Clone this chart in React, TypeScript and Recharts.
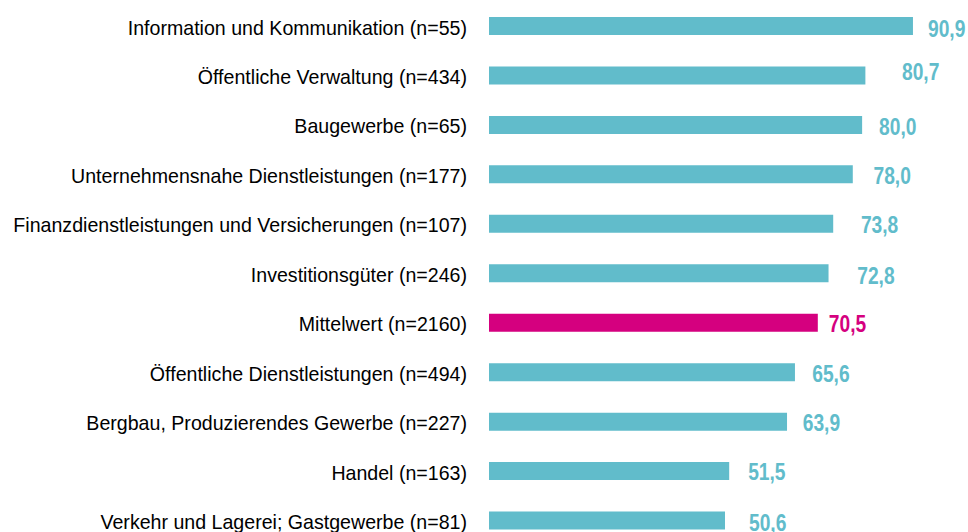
import React from "react";
import { BarChart, Bar, XAxis, YAxis, Cell, LabelList } from "recharts";

const categories = [
  "Information und Kommunikation (n=55)",
  "Öffentliche Verwaltung (n=434)",
  "Baugewerbe (n=65)",
  "Unternehmensnahe Dienstleistungen (n=177)",
  "Finanzdienstleistungen und Versicherungen (n=107)",
  "Investitionsgüter (n=246)",
  "Mittelwert (n=2160)",
  "Öffentliche Dienstleistungen (n=494)",
  "Bergbau, Produzierendes Gewerbe (n=227)",
  "Handel (n=163)",
  "Verkehr und Lagerei; Gastgewerbe (n=81)",
];
const values = [90.9, 80.7, 80.0, 78.0, 73.8, 72.8, 70.5, 65.6, 63.9, 51.5, 50.6];
const highlight = "Mittelwert (n=2160)";

// label placement (layout only): horizontal gap after bar end, vertical shift
const labelGap = [15, 36.6, 17, 20.7, 27.7, 28.7, 11, 17.3, 15.7, 19, 24];
const labelShift = [2, -4, 1.7, 1.2, 0.5, 2.5, 0.3, 1.3, 0.7, 0.7, 1.4];

const TEAL = "#61bccb";
const MAGENTA = "#d5007f";

const data = categories.map((c, i) => ({ name: c, value: values[i] }));

const ValueLabel = (props: any) => {
  const { x, y, width, height, value, index } = props;
  const color = categories[index] === highlight ? MAGENTA : TEAL;
  const tx = x + width + labelGap[index];
  const ty = y + height / 2 + labelShift[index];
  return (
    <text
      transform={`translate(${tx},${ty}) scale(0.8,1)`}
      x={0}
      y={0}
      dy="0.358em"
      fill={color}
      fontFamily="'Liberation Sans', Arial, sans-serif"
      fontWeight="bold"
      fontSize={24}
      textAnchor="start"
    >
      {Number(value).toFixed(1).replace(".", ",")}
    </text>
  );
};

const CategoryTick = (props: any) => {
  const { x, y, payload } = props;
  return (
    <text
      transform={`translate(${x},${y}) scale(0.934,1)`}
      x={0}
      y={0}
      dy="0.42em"
      fill="#000"
      fontFamily="'Liberation Sans', Arial, sans-serif"
      fontSize={21}
      textAnchor="end"
    >
      {payload.value}
    </text>
  );
};

export default function App() {
  return (
    <div style={{ position: "fixed", left: 0, top: 0, width: 968, height: 532, overflow: "hidden", background: "#fff" }}>
      <BarChart
        width={968}
        height={545}
        data={data}
        layout="vertical"
        margin={{ top: 1, right: 12.6, bottom: 0, left: 0 }}
        barCategoryGap={16}
      >
        <XAxis type="number" domain={[0, 100]} hide />
        <YAxis
          type="category"
          dataKey="name"
          width={489}
          tickSize={0}
          tickMargin={22}
          axisLine={false}
          tickLine={false}
          interval={0}
          tick={<CategoryTick />}
        />
        <Bar dataKey="value" isAnimationActive={false} barSize={18}>
          {data.map((d) => (
            <Cell key={d.name} fill={d.name === highlight ? MAGENTA : TEAL} />
          ))}
          <LabelList dataKey="value" content={<ValueLabel />} />
        </Bar>
      </BarChart>
    </div>
  );
}
